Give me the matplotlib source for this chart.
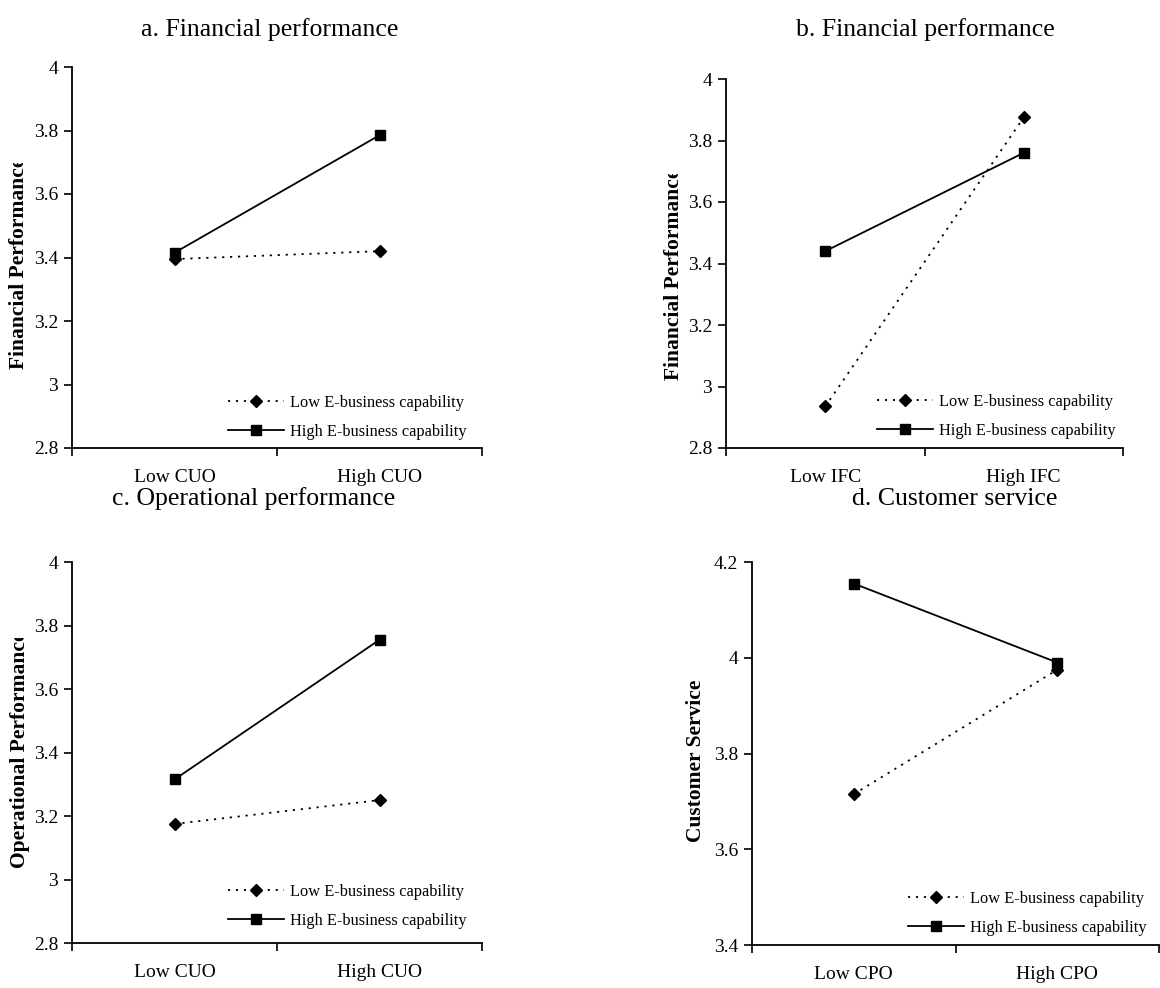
import matplotlib
matplotlib.use("Agg")
import matplotlib.pyplot as plt
from matplotlib.transforms import Bbox

plt.rcParams['font.family'] = ['Liberation Serif', 'DejaVu Serif']

# ---- data ----
titles = ["a. Financial performance", "b. Financial performance",
          "c. Operational performance", "d. Customer service"]
ylabels = ["Financial Performance", "Financial Performance",
           "Operational Performance", "Customer Service"]
cats_a = ["Low CUO", "High CUO"]
cats_b = ["Low IFC", "High IFC"]
cats_c = ["Low CUO", "High CUO"]
cats_d = ["Low CPO", "High CPO"]
low_a = [3.395, 3.42]
high_a = [3.415, 3.785]
low_b = [2.935, 3.875]
high_b = [3.44, 3.76]
low_c = [3.175, 3.25]
high_c = [3.315, 3.755]
low_d = [3.715, 3.975]
high_d = [4.155, 3.99]
yticks_abc = [2.8, 3, 3.2, 3.4, 3.6, 3.8, 4]
yticklabels_abc = ["2.8", "3", "3.2", "3.4", "3.6", "3.8", "4"]
yticks_d = [3.4, 3.6, 3.8, 4.0, 4.2]
yticklabels_d = ["3.4", "3.6", "3.8", "4", "4.2"]
series_names = ["Low E-business capability", "High E-business capability"]

W, H = 1160, 988
fig = plt.figure(figsize=(W / 100, H / 100), dpi=100)

def px_axes(left, top, right, bottom):
    return fig.add_axes([left / W, 1 - bottom / H, (right - left) / W, (bottom - top) / H])

# (left, top, right, bottom) in pixels
boxes = [(72, 67, 482, 448), (726, 79, 1123, 448), (72, 562, 482, 943), (752, 562, 1159, 945)]
cats = [cats_a, cats_b, cats_c, cats_d]
lows = [low_a, low_b, low_c, low_d]
highs = [high_a, high_b, high_c, high_d]
yt = [yticks_abc, yticks_abc, yticks_abc, yticks_d]
ytl = [yticklabels_abc, yticklabels_abc, yticklabels_abc, yticklabels_d]
title_xy = [(270, 30), (925, 30), (254, 499), (955, 499)]
ylabel_x = [29, 684, 30, 706]          # right edge of rotated label
ylabel_cy = [263, 274, 750, 761]
ylabel_truncated = [True, True, True, False]
legend_pos = [(228, 395), (877, 394), (228, 884), (908, 891)]

labels = []
for i in range(4):
    l, t, r, b = boxes[i]
    ax = px_axes(l, t, r, b)
    xs = [0.5, 1.5]
    ax.plot(xs, lows[i], color='black', lw=1.3, linestyle=(0, (1.2, 3.2)),
            marker='D', markersize=6.5, label=series_names[0])
    ax.plot(xs, highs[i], color='black', lw=1.3, linestyle='-',
            marker='s', markersize=6.5, label=series_names[1])
    ax.set_xlim(0, 2)
    ax.set_ylim(yt[i][0], yt[i][-1])
    ax.set_yticks(yt[i])
    ax.set_yticklabels(ytl[i])
    ax.set_xticks([0, 1, 2])
    ax.set_xticklabels([])
    ax.set_xticks(xs, minor=True)
    ax.set_xticklabels(cats[i], minor=True)
    ax.tick_params(axis='x', which='major', direction='out', length=6, width=1.2)
    ax.tick_params(axis='x', which='minor', length=0, pad=15, labelsize=14)
    ax.tick_params(axis='y', direction='out', length=6, width=1.2, pad=4, labelsize=14)
    for s in ['top', 'right']:
        ax.spines[s].set_visible(False)
    for s in ['left', 'bottom']:
        ax.spines[s].set_linewidth(1.3)

    # title
    ah = b - t
    tx, ty = title_xy[i]
    ax.set_title(titles[i], fontsize=18.5, x=(tx - l) / (r - l),
                 y=1 + (t - ty) / ah, va='center', pad=0)

    # ylabel
    lab = ax.set_ylabel(ylabels[i], fontsize=15.5, fontweight='bold')
    ax.yaxis.set_label_coords((ylabel_x[i] - l) / (r - l), (b - ylabel_cy[i]) / ah)
    labels.append(lab)

    # legend
    lx, ly = legend_pos[i]
    ax.legend(loc='upper left', bbox_to_anchor=(lx / W, 1 - ly / H),
              bbox_transform=fig.transFigure, frameon=False, fontsize=11.8,
              handlelength=3.4, handletextpad=0.4, labelspacing=0.8,
              borderpad=0, borderaxespad=0, numpoints=1)

# the reference cuts off the end of some axis titles: clip just inside their top end
fig.canvas.draw()
renderer = fig.canvas.get_renderer()
for lab, trunc in zip(labels, ylabel_truncated):
    if trunc:
        bb = lab.get_window_extent(renderer)
        lab.set_clip_box(Bbox.from_extents(0, 0, W, bb.y1 - 6))
        lab.set_clip_on(True)

fig.savefig("out.png", dpi=100)
